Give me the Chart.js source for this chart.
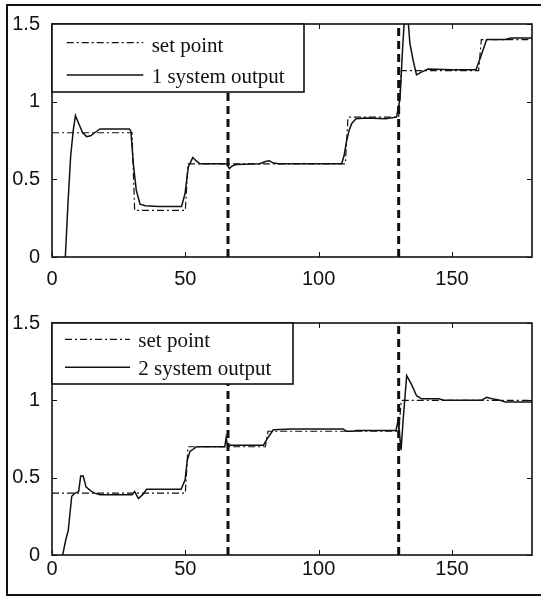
<!DOCTYPE html>
<html>
<head>
<meta charset="utf-8">
<script src="https://cdn.jsdelivr.net/npm/chart.js@4.4.1/dist/chart.umd.min.js"></script>
<style>
  html, body { margin: 0; padding: 0; background: #fff; }
  body { width: 541px; height: 597px; position: relative; overflow: hidden; }
  .frame { position: absolute; left: 6px; top: 4px; width: 560px; height: 592px; border: 2px solid #111; box-sizing: border-box; }
  .panel { position: absolute; left: 0; width: 541px; }
  #topWrap { top: 0; height: 290px; }
  #bottomWrap { top: 290px; height: 307px; }
</style>
</head>
<body>
<div class="frame"></div>
<div class="panel" id="topWrap"><canvas id="topChart"></canvas></div>
<div class="panel" id="bottomWrap"><canvas id="bottomChart"></canvas></div>
<script>
'use strict';

const X_TICKS = [0, 50, 100, 150];
const Y_TICKS = [0, 0.5, 1, 1.5];
const MARK_T = [66, 130];

// panel 1
const SP1_T = [0, 30, 31, 50, 51, 110, 111, 130, 131, 160, 161, 180];
const SP1_V = [0.8, 0.8, 0.3, 0.3, 0.6, 0.6, 0.9, 0.9, 1.2, 1.2, 1.4, 1.4];
const OUT1_T = [5, 6, 7, 8, 8.8, 10, 11.5, 13, 14.5, 16, 18, 29, 29.6, 30.5, 31.6, 33, 35, 40, 48.6, 49.9, 51.1, 52.8, 54, 55.5, 60, 65.5, 66.5, 67.5, 69, 78, 80, 81.5, 83, 85, 100, 108.6, 109.5, 110.5, 111.5, 112.4, 114, 118, 125, 129.2, 130.5, 131.5, 132.4, 133.2, 134.2, 135.5, 136.7, 138.5, 141, 150, 159, 161, 163, 170, 172, 178, 180];
const OUT1_V = [0, 0.35, 0.65, 0.82, 0.91, 0.86, 0.8, 0.775, 0.78, 0.8, 0.824, 0.824, 0.81, 0.6, 0.43, 0.34, 0.33, 0.325, 0.325, 0.41, 0.58, 0.64, 0.62, 0.6, 0.6, 0.6, 0.57, 0.585, 0.595, 0.6, 0.615, 0.62, 0.605, 0.6, 0.6, 0.6, 0.65, 0.75, 0.82, 0.86, 0.89, 0.895, 0.89, 0.9, 1.02, 1.35, 1.6, 1.6, 1.376, 1.26, 1.172, 1.19, 1.21, 1.205, 1.205, 1.3, 1.4, 1.4, 1.41, 1.41, 1.41];

// panel 2
const SP2_T = [0, 50, 51, 80, 81, 130, 131, 180];
const SP2_V = [0.4, 0.4, 0.7, 0.7, 0.8, 0.8, 1.0, 1.0];
const OUT2_T = [4, 5.2, 6.1, 7.4, 8.6, 10, 10.75, 11.7, 12.75, 14.9, 16, 18, 30, 31, 32.4, 34, 35.5, 40, 48.4, 49.9, 50.7, 51.75, 54.3, 60, 64.8, 65.3, 65.8, 70, 79.3, 81, 83, 90, 109.2, 110.5, 113, 114, 129, 129.8, 130.9, 131.8, 133, 134.9, 136.7, 138.6, 145, 147, 161, 163, 165, 168, 170, 180];
const OUT2_V = [0, 0.1, 0.16, 0.38, 0.4, 0.41, 0.51, 0.51, 0.44, 0.41, 0.4, 0.39, 0.39, 0.41, 0.365, 0.39, 0.425, 0.425, 0.425, 0.485, 0.61, 0.67, 0.7, 0.7, 0.7, 0.76, 0.71, 0.71, 0.71, 0.76, 0.81, 0.815, 0.815, 0.8, 0.8, 0.805, 0.805, 0.87, 0.68, 0.9, 1.16, 1.1, 1.03, 1.01, 1.01, 1.0, 1.0, 1.02, 1.01, 1.0, 0.99, 0.99];

const LEGEND_1 = ['set point', '1 system output'];
const LEGEND_2 = ['set point', '2 system output'];

const INK = '#111111';
const DASH_DOT = [7, 3, 2, 3];

function pts(ts, vs) { return ts.map((t, i) => ({ x: t, y: vs[i] })); }

// box round the axes, MATLAB style inward ticks
const frameAxes = {
  id: 'frameAxes',
  afterDatasetsDraw(chart) {
    const { ctx, chartArea: a, scales: { x, y } } = chart;
    ctx.save();
    ctx.strokeStyle = INK;
    ctx.lineWidth = 1;
    ctx.beginPath();
    X_TICKS.forEach(v => {
      const px = Math.round(x.getPixelForValue(v)) + 0.5;
      ctx.moveTo(px, a.bottom); ctx.lineTo(px, a.bottom - 5);
      ctx.moveTo(px, a.top); ctx.lineTo(px, a.top + 5);
    });
    Y_TICKS.forEach(v => {
      const py = Math.round(y.getPixelForValue(v)) + 0.5;
      ctx.moveTo(a.left, py); ctx.lineTo(a.left + 5, py);
      ctx.moveTo(a.right, py); ctx.lineTo(a.right - 5, py);
    });
    ctx.stroke();
    ctx.lineWidth = 1.6;
    ctx.strokeRect(a.left, a.top, a.right - a.left, a.bottom - a.top);
    ctx.restore();
  }
};

// boxed legend sitting inside the plot, upper left
const boxLegend = {
  id: 'boxLegend',
  afterDraw(chart, args, opts) {
    const { ctx } = chart;
    const [x0, y0, x1, y1] = opts.box;
    ctx.save();
    ctx.fillStyle = '#ffffff';
    ctx.fillRect(x0, y0, x1 - x0, y1 - y0);
    ctx.strokeStyle = INK;
    ctx.lineWidth = 1.6;
    ctx.strokeRect(x0, y0, x1 - x0, y1 - y0);
    ctx.font = '21px "Liberation Serif", "Times New Roman", serif';
    ctx.fillStyle = INK;
    ctx.textBaseline = 'alphabetic';
    opts.labels.forEach((label, i) => {
      const ds = chart.data.datasets[i];
      const row = opts.rows[i];
      ctx.beginPath();
      ctx.setLineDash(ds.borderDash || []);
      ctx.lineWidth = ds.borderWidth;
      ctx.moveTo(opts.sample[0], row.line);
      ctx.lineTo(opts.sample[1], row.line);
      ctx.stroke();
      ctx.setLineDash([]);
      ctx.fillText(label, opts.textX, row.base);
    });
    ctx.restore();
  }
};

function makeChart(canvasId, spT, spV, outT, outV, layout, legend) {
  const marks = MARK_T.map(t => ({
    data: pts([t, t], [0, 1.5]),
    borderColor: INK,
    borderWidth: 3,
    borderDash: [8, 5],
    pointRadius: 0,
    order: 0
  }));
  return new Chart(document.getElementById(canvasId), {
    type: 'line',
    data: {
      datasets: [
        { data: pts(spT, spV), borderColor: INK, borderWidth: 1.2, borderDash: DASH_DOT, pointRadius: 0, tension: 0, order: 2 },
        { data: pts(outT, outV), borderColor: INK, borderWidth: 1.5, pointRadius: 0, tension: 0, order: 1 },
        ...marks
      ]
    },
    options: {
      responsive: true,
      maintainAspectRatio: false,
      animation: false,
      events: [],
      layout: { padding: { top: layout.top, right: 9, bottom: 0, left: 0 } },
      plugins: {
        legend: { display: false },
        tooltip: { enabled: false },
        boxLegend: legend
      },
      scales: {
        x: {
          type: 'linear', min: 0, max: 180,
          grid: { display: false, drawTicks: false },
          border: { display: false },
          afterBuildTicks: s => { s.ticks = X_TICKS.map(v => ({ value: v })); },
          afterFit: s => { s.height = layout.xHeight; },
          ticks: { padding: layout.xPad, color: INK, maxRotation: 0, autoSkip: false, font: { family: '"Liberation Sans", Arial, sans-serif', size: 20 } }
        },
        y: {
          type: 'linear', min: 0, max: 1.5,
          grid: { display: false, drawTicks: false },
          border: { display: false },
          afterBuildTicks: s => { s.ticks = Y_TICKS.map(v => ({ value: v })); },
          afterFit: s => { s.width = 52; },
          ticks: { padding: 12, color: INK, callback: v => String(v), font: { family: '"Liberation Sans", Arial, sans-serif', size: 20 } }
        }
      }
    },
    plugins: [frameAxes, boxLegend]
  });
}

makeChart('topChart', SP1_T, SP1_V, OUT1_T, OUT1_V,
  { top: 24, xHeight: 33, xPad: 10 },
  { labels: LEGEND_1, box: [52, 24, 304, 92], sample: [66.7, 143.3], textX: 151.7, rows: [{ line: 42.7, base: 51.5 }, { line: 75, base: 83 }] });

makeChart('bottomChart', SP2_T, SP2_V, OUT2_T, OUT2_V,
  { top: 33, xHeight: 42, xPad: 2 },
  { labels: LEGEND_2, box: [52, 33, 293, 94], sample: [65, 130], textX: 138.3, rows: [{ line: 49.3, base: 57.3 }, { line: 77.3, base: 85 }] });
</script>
</body>
</html>
